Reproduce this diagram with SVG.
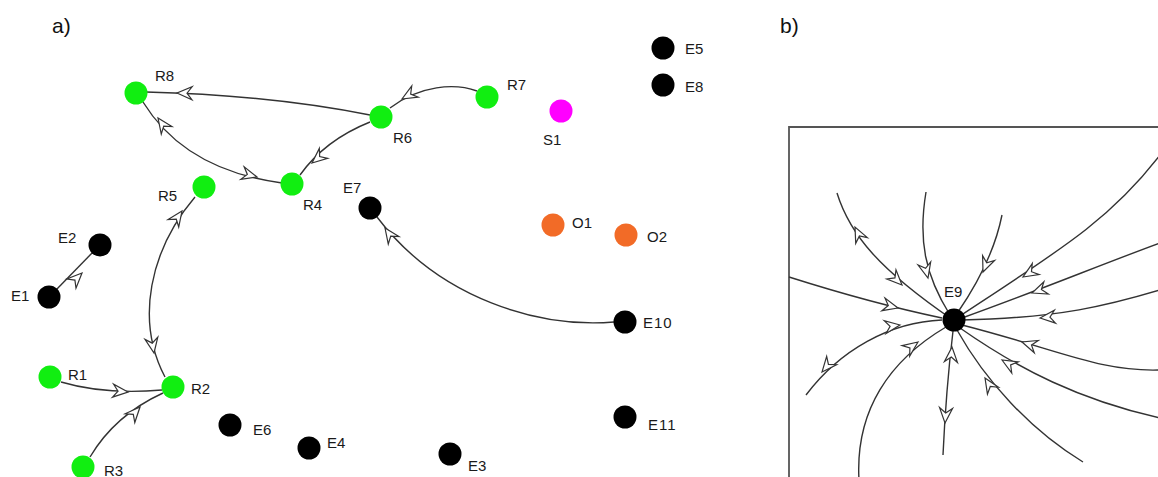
<svg xmlns="http://www.w3.org/2000/svg" xmlns:xlink="http://www.w3.org/1999/xlink" width="1158" height="477" viewBox="0 0 1158 477">
  <style>
    text { font-family: "Liberation Sans", Arial, sans-serif; font-size: 15px; fill: #1a1a1a; }
    .panel { font-size: 21px; fill: #111; }
    .edge { fill: none; stroke: #333; stroke-width: 1.4; }
    .green { fill: #11ee11; }
    .black { fill: #000; }
    .orange { fill: #f26b27; }
    .magenta { fill: #ff00ff; }
    .frame { fill: none; stroke: #555; stroke-width: 1.8; }
  </style>
  <defs>
    <!-- open chevron arrowhead, tip at origin, pointing along +x -->
    <path id="ah" d="M0,0 L-15,-6.5 L-10,0 L-15,6.5 Z" fill="#fff" stroke="#333" stroke-width="1.2" stroke-linejoin="miter"/>
  </defs>
  <rect width="1158" height="477" fill="#fff"/>

  <text class="panel" x="52" y="33">a)</text>
  <text class="panel" x="780" y="33">b)</text>

  <!-- panel a connectors -->
  <g id="connectors-a">
    <path class="edge" d="M370,115 Q270,95 146,92"/>
    <path class="edge" d="M477,91 C455,83 420,85 390,108"/>
    <path class="edge" d="M370,122 Q325,140 300,175"/>
    <path class="edge" d="M143,102 Q185,170 282,183"/>
    <path class="edge" d="M195,197 C150,250 135,320 165,377"/>
    <path class="edge" d="M56,290 L93,252"/>
    <path class="edge" d="M61,382 Q105,395 162,390"/>
    <path class="edge" d="M90,457 Q115,415 163,393"/>
    <path class="edge" d="M614,322 C540,328 440,300 377,217"/>
    <use xlink:href="#ah" transform="translate(177,93) rotate(181)"/>
    <use xlink:href="#ah" transform="translate(402,99) rotate(150)"/>
    <use xlink:href="#ah" transform="translate(312,163) rotate(140)"/>
    <use xlink:href="#ah" transform="translate(158,118) rotate(-125)"/>
    <use xlink:href="#ah" transform="translate(257,177) rotate(15)"/>
    <use xlink:href="#ah" transform="translate(182,211) rotate(-55)"/>
    <use xlink:href="#ah" transform="translate(154,353) rotate(80)"/>
    <use xlink:href="#ah" transform="translate(82,273) rotate(-45)"/>
    <use xlink:href="#ah" transform="translate(128,392) rotate(5)"/>
    <use xlink:href="#ah" transform="translate(140,407) rotate(-48)"/>
    <use xlink:href="#ah" transform="translate(385,228) rotate(-125)"/>
  </g>

  <!-- panel a nodes -->
  <g id="R8"><circle class="green" cx="136" cy="93" r="11.5"/><text x="155" y="81">R8</text></g>
  <g id="R6"><circle class="green" cx="381" cy="117" r="11.5"/><text x="393" y="143">R6</text></g>
  <g id="R7"><circle class="green" cx="487" cy="97" r="11.5"/><text x="507" y="90">R7</text></g>
  <g id="S1"><circle class="magenta" cx="561" cy="111" r="11.5"/><text x="543" y="145">S1</text></g>
  <g id="E5"><circle class="black" cx="663" cy="48" r="11.5"/><text x="685" y="54">E5</text></g>
  <g id="E8"><circle class="black" cx="663" cy="85" r="11.5"/><text x="685" y="92">E8</text></g>
  <g id="R4"><circle class="green" cx="292" cy="184" r="11.5"/><text x="303" y="210">R4</text></g>
  <g id="R5"><circle class="green" cx="204" cy="187" r="11.5"/><text x="158" y="201">R5</text></g>
  <g id="E7"><circle class="black" cx="370" cy="208" r="11.5"/><text x="343" y="193">E7</text></g>
  <g id="O1"><circle class="orange" cx="553" cy="225" r="11.5"/><text x="572" y="228">O1</text></g>
  <g id="O2"><circle class="orange" cx="626" cy="235" r="11.5"/><text x="647" y="242">O2</text></g>
  <g id="E2"><circle class="black" cx="100" cy="245" r="11.5"/><text x="58" y="243">E2</text></g>
  <g id="E1"><circle class="black" cx="49" cy="297" r="11.5"/><text x="11" y="301">E1</text></g>
  <g id="E10"><circle class="black" cx="625" cy="322" r="11.5"/><text x="643" y="328" letter-spacing="1">E10</text></g>
  <g id="R1"><circle class="green" cx="50" cy="377" r="11.5"/><text x="68" y="380">R1</text></g>
  <g id="R2"><circle class="green" cx="173" cy="387" r="11.5"/><text x="191" y="394">R2</text></g>
  <g id="E6"><circle class="black" cx="230" cy="425" r="11.5"/><text x="253" y="435">E6</text></g>
  <g id="E4"><circle class="black" cx="309" cy="448" r="11.5"/><text x="327" y="448">E4</text></g>
  <g id="E11"><circle class="black" cx="625" cy="417" r="11.5"/><text x="648" y="430" letter-spacing="1">E11</text></g>
  <g id="E3"><circle class="black" cx="450" cy="454" r="11.5"/><text x="468" y="471">E3</text></g>
  <g id="R3"><circle class="green" cx="83" cy="467" r="11.5"/><text x="104" y="476">R3</text></g>

  <!-- panel b: phase portrait frame -->
  <path class="frame" d="M789,480 L789,127 L1162,127"/>

  <!-- panel b flow lines around E9 -->
  <g id="connectors-b">
    <path class="edge" d="M837,193 C850,235 880,270 953,320"/>
    <path class="edge" d="M926,192 C918,240 925,275 950,315"/>
    <path class="edge" d="M1002,215 C995,250 980,280 958,312"/>
    <path class="edge" d="M1160,155 C1110,220 1060,250 960,316"/>
    <path class="edge" d="M1160,243 C1100,265 1040,290 962,318"/>
    <path class="edge" d="M1160,290 C1110,305 1060,318 962,320"/>
    <path class="edge" d="M1160,370 C1100,372 1060,350 962,325"/>
    <path class="edge" d="M1160,418 C1080,400 1020,370 960,328"/>
    <path class="edge" d="M1083,462 C1030,430 985,380 957,330"/>
    <path class="edge" d="M953,331 Q946,390 943,455"/>
    <path class="edge" d="M859,480 C855,410 890,360 946,327"/>
    <path class="edge" d="M942,320 C890,322 840,350 806,395"/>
    <path class="edge" d="M789,277 C830,290 880,305 942,318"/>
    <use xlink:href="#ah" transform="translate(855,227) rotate(-116)"/>
    <use xlink:href="#ah" transform="translate(902,285) rotate(45)"/>
    <use xlink:href="#ah" transform="translate(928,278) rotate(76)"/>
    <use xlink:href="#ah" transform="translate(983,272) rotate(112)"/>
    <use xlink:href="#ah" transform="translate(1023,277) rotate(148)"/>
    <use xlink:href="#ah" transform="translate(1032,293) rotate(160)"/>
    <use xlink:href="#ah" transform="translate(1040,318) rotate(175)"/>
    <use xlink:href="#ah" transform="translate(1022,342) rotate(-162)"/>
    <use xlink:href="#ah" transform="translate(1002,360) rotate(-150)"/>
    <use xlink:href="#ah" transform="translate(985,378) rotate(-122)"/>
    <use xlink:href="#ah" transform="translate(952,347) rotate(-86)"/>
    <use xlink:href="#ah" transform="translate(945,423) rotate(94)"/>
    <use xlink:href="#ah" transform="translate(918,342) rotate(-36)"/>
    <use xlink:href="#ah" transform="translate(900,325) rotate(-8)"/>
    <use xlink:href="#ah" transform="translate(822,372) rotate(130)"/>
    <use xlink:href="#ah" transform="translate(898,308) rotate(14)"/>
  </g>

  <g id="E9"><circle class="black" cx="954" cy="320" r="11.5"/><text x="944" y="297">E9</text></g>
</svg>
